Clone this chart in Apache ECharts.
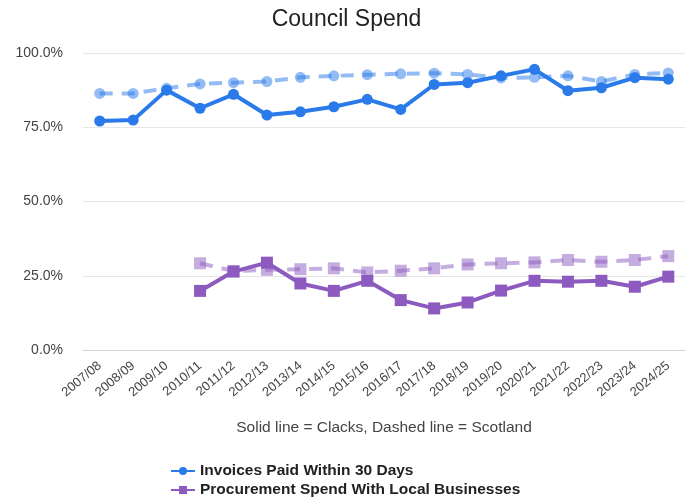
<!DOCTYPE html>
<html><head><meta charset="utf-8">
<script src="https://cdn.jsdelivr.net/npm/echarts@6/dist/echarts.min.js"></script>
<style>html,body{margin:0;padding:0;background:#fff}#c{width:693px;height:499px}</style>
</head><body><div id="c"></div>
<script>
const categories = ['2007/08','2008/09','2009/10','2010/11','2011/12','2012/13','2013/14','2014/15','2015/16','2016/17','2017/18','2018/19','2019/20','2020/21','2021/22','2022/23','2023/24','2024/25'];
const invoicesClacks = [77.1,77.4,87.5,81.4,86.1,79.1,80.2,81.9,84.4,81.0,89.4,90.0,92.3,94.5,87.3,88.3,91.7,91.2];
const invoicesScotland = [86.4,86.4,88.1,89.6,90.0,90.4,91.8,92.3,92.7,93.0,93.2,92.8,91.6,91.8,92.3,90.4,92.8,93.3];
const procurementClacks = [null,null,null,19.9,26.4,29.4,22.4,19.9,23.3,16.8,14.0,16.0,20.0,23.3,23.0,23.3,21.3,24.7];
const procurementScotland = [null,null,null,29.2,26.6,27.0,27.2,27.5,26.1,26.7,27.5,28.8,29.2,29.5,30.3,29.7,30.3,31.6];
const yTicks = {min:0, max:100, interval:25};

const blue = '#2a7ae9', purple = '#8d5bbf';
const chart = echarts.init(document.getElementById('c'), null, {renderer:'canvas'});
const font = 'Arial, "Liberation Sans", sans-serif';
const legendText = {fontFamily:font, fontSize:15.5, fontWeight:'bold', color:'#222'};
chart.setOption({
  animation:false,
  title:{text:'Council Spend', left:'center', top:3, textStyle:{fontFamily:font, fontSize:23, fontWeight:'normal', color:'#222'}},
  grid:{left:83, right:8, top:53, bottom:149},
  legend:[
    {left:165, top:458, itemWidth:24, itemHeight:10, data:['Invoices Paid Within 30 Days'], textStyle:legendText},
    {left:165, top:477, itemWidth:24, itemHeight:10, data:['Procurement Spend With Local Businesses'], textStyle:legendText}
  ],
  xAxis:{type:'category', data:categories, boundaryGap:true,
    name:'Solid line = Clacks, Dashed line = Scotland', nameLocation:'middle', nameGap:70,
    nameTextStyle:{fontFamily:font, fontSize:15.5, color:'#444'},
    axisLine:{show:true, lineStyle:{color:'#ccd3dd'}}, axisTick:{show:false},
    axisLabel:{rotate:40, interval:0, fontFamily:font, fontSize:13, color:'#444', margin:14}},
  yAxis:{type:'value', min:yTicks.min, max:yTicks.max, interval:yTicks.interval,
    axisLabel:{formatter:v=>v.toFixed(1)+'%', fontFamily:font, fontSize:14, color:'#444', margin:20},
    splitLine:{lineStyle:{color:'#e6e6e6'}}, axisLine:{show:false}, axisTick:{show:false}},
  series:[
    {name:'Invoices Paid Within 30 Days (Scotland)', type:'line', data:invoicesScotland, z:2,
      symbol:'circle', symbolSize:11, itemStyle:{color:blue, opacity:0.5},
      lineStyle:{color:blue, width:4, type:[13,9], opacity:0.5}},
    {name:'Procurement Spend With Local Businesses (Scotland)', type:'line', data:procurementScotland, z:2,
      symbol:'rect', symbolSize:12, itemStyle:{color:purple, opacity:0.5},
      lineStyle:{color:purple, width:4, type:[13,9], opacity:0.5}},
    {name:'Invoices Paid Within 30 Days', type:'line', data:invoicesClacks, z:3,
      symbol:'circle', symbolSize:11, itemStyle:{color:blue},
      lineStyle:{color:blue, width:4}},
    {name:'Procurement Spend With Local Businesses', type:'line', data:procurementClacks, z:3,
      symbol:'rect', symbolSize:12, itemStyle:{color:purple},
      lineStyle:{color:purple, width:4}}
  ]
});
</script></body></html>
